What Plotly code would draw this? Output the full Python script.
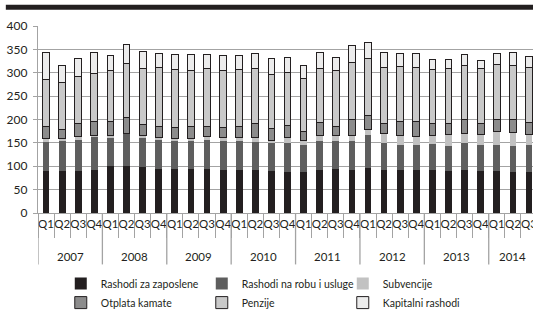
import plotly.graph_objects as go

years = ["2007"] * 4 + ["2008"] * 4 + ["2009"] * 4 + ["2010"] * 4 + ["2011"] * 4 + ["2012"] * 4 + ["2013"] * 4 + ["2014"] * 3
quarters = ["Q1", "Q2", "Q3", "Q4"] * 7 + ["Q1", "Q2", "Q3"]
year_labels = ["2007", "2008", "2009", "2010", "2011", "2012", "2013", "2014"]

zaposlene = [90, 90, 90, 91, 101, 101, 99, 95, 95, 94, 94, 92, 91, 92, 90, 88,
             88, 93, 94, 93, 96, 93, 92, 91, 91, 90, 91, 89, 90, 88, 88]
robu_usluge = [62, 64, 67, 72, 60, 69, 61, 62, 61, 60, 63, 62, 63, 60, 60, 62,
               57, 61, 60, 60, 70, 57, 53, 54, 56, 53, 59, 56, 55, 55, 58]
subvencije = [8, 5, 6, 3, 5, 1, 5, 4, 4, 6, 6, 7, 7, 9, 5, 11,
              11, 12, 11, 13, 13, 21, 21, 18, 19, 25, 21, 23, 30, 29, 22]
otplata_kamate = [24, 20, 28, 30, 29, 34, 24, 25, 22, 24, 21, 22, 24, 30, 25, 27,
                  18, 28, 21, 35, 30, 20, 29, 32, 25, 23, 28, 23, 25, 27, 25]
penzije = [102, 101, 101, 103, 109, 114, 120, 125, 125, 120, 125, 121, 122, 118, 116, 113,
           113, 115, 118, 121, 122, 120, 119, 116, 117, 118, 117, 118, 118, 116, 119]
kapitalni = [57, 36, 39, 44, 32, 42, 37, 30, 32, 34, 30, 33, 29, 32, 34, 31,
             29, 34, 29, 37, 33, 32, 27, 30, 21, 20, 22, 17, 23, 28, 22]

series = [
    ("Rashodi za zaposlene", zaposlene, "#231f20", 0),
    ("Rashodi na robu i usluge", robu_usluge, "#5e5e5e", 0),
    ("Subvencije", subvencije, "#c2c2c2", 0),
    ("Otplata kamate", otplata_kamate, "#8c8c8c", 1),
    ("Penzije", penzije, "#c9c9c9", 1),
    ("Kapitalni rashodi", kapitalni, "#ececec", 1),
]

FONT = "Lato, Open Sans, sans-serif"
GRID = "#a3a3a3"

xcats = [f"{y} {q}" for y, q in zip(years, quarters)]

fig = go.Figure()
for name, vals, color, lw in series:
    fig.add_trace(go.Bar(
        x=xcats, y=vals, name=name,
        marker=dict(color=color, line=dict(color="#231f20", width=lw)),
        width=0.42,
    ))

# year group labels and dividers (from category indices)
shapes = [dict(type="line", xref="paper", yref="paper",
               x0=-0.065, x1=1.0, y0=1.1, y1=1.1,
               line=dict(color="#231f20", width=5))]
annotations = []
start = 0
for yl in year_labels:
    n = years.count(yl)
    center = start + (n - 1) / 2
    annotations.append(dict(x=center, y=-0.232, xref="x", yref="paper",
                            text=yl, showarrow=False, yanchor="middle",
                            font=dict(size=11.5, family=FONT, color="#231f20")))
    shapes.append(dict(type="line", xref="x", yref="paper",
                       x0=start - 0.5, x1=start - 0.5, y0=0, y1=-0.275,
                       line=dict(color=GRID, width=1.3)))
    start += n

fig.update_layout(
    barmode="stack",
    width=533, height=318,
    margin=dict(l=38, r=0, t=26, b=105),
    paper_bgcolor="white", plot_bgcolor="white",
    font=dict(family=FONT, size=12, color="#231f20"),
    showlegend=True,
    legend=dict(
        orientation="h", x=0.046, xanchor="left", y=-0.30, yanchor="top",
        traceorder="normal",
        entrywidth=96, entrywidthmode="pixels",
        font=dict(size=10.5), itemwidth=30, tracegroupgap=0,
        bgcolor="rgba(0,0,0,0)",
    ),
    shapes=shapes,
    annotations=annotations,
)

fig.update_yaxes(
    range=[0, 400], dtick=50, showgrid=True, gridcolor=GRID, gridwidth=1.3,
    showline=True, linecolor=GRID, linewidth=1.3,
    ticks="outside", ticklen=4, tickcolor=GRID, ticklabelstandoff=3,
    tickfont=dict(size=12), zeroline=False, automargin=False,
)
fig.update_xaxes(
    type="category", range=[-0.5, 30.25], tickangle=0, automargin=False,
    tickmode="array", tickvals=xcats, ticktext=quarters, tickson="boundaries",
    showline=True, linecolor=GRID, linewidth=1.3,
    ticks="outside", ticklen=24, tickcolor=GRID, tickwidth=1.3,
    tickfont=dict(size=11.5), showgrid=False,
)

fig.write_html("out.html", config={"displayModeBar": False},
               post_script="document.body.style.margin='0px';")
